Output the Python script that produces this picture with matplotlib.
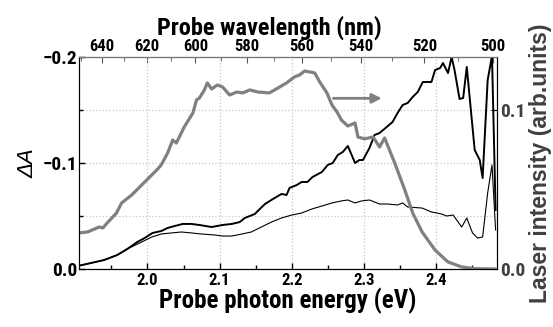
import numpy as np
import matplotlib.pyplot as plt
from matplotlib.ticker import MultipleLocator, FixedLocator

plt.rcParams['font.family'] = ['Roboto Condensed', 'Liberation Sans', 'DejaVu Sans']
plt.rcParams['axes.unicode_minus'] = True

# --- data ---
# laser intensity (right axis)
laser_e = [1.904, 1.917, 1.933, 1.938, 1.944, 1.957, 1.964, 1.978, 1.992, 1.999,
           2.013, 2.019, 2.028, 2.035, 2.040, 2.051, 2.063, 2.068, 2.072, 2.079,
           2.083, 2.089, 2.097, 2.104, 2.114, 2.124, 2.132, 2.142, 2.153, 2.169,
           2.181, 2.193, 2.204, 2.211, 2.218, 2.232, 2.239, 2.249, 2.256, 2.263,
           2.269, 2.278, 2.288, 2.292, 2.301, 2.313, 2.322, 2.329, 2.343, 2.357,
           2.368, 2.381, 2.399, 2.417, 2.436, 2.454, 2.482]
laser_i = [0.0226, 0.0233, 0.0264, 0.0258, 0.0289, 0.0352, 0.0415, 0.0465, 0.0528, 0.0560,
           0.0623, 0.0654, 0.0730, 0.0811, 0.0792, 0.0893, 0.0981, 0.1063, 0.1075, 0.1126,
           0.1170, 0.1132, 0.1157, 0.1145, 0.1094, 0.1113, 0.1107, 0.1126, 0.1113, 0.1107,
           0.1138, 0.1170, 0.1208, 0.1220, 0.1245, 0.1233, 0.1176, 0.1107, 0.1031, 0.0987,
           0.0937, 0.0899, 0.0918, 0.0830, 0.0818, 0.0830, 0.0767, 0.0824, 0.0667, 0.0497,
           0.0352, 0.0233, 0.0119, 0.0044, 0.0013, 0.0002, 0.0]

# -dA, thick curve
thick_e = [1.903, 1.922, 1.940, 1.958, 1.972, 1.986, 1.996, 2.007, 2.019, 2.028,
           2.038, 2.049, 2.061, 2.072, 2.089, 2.104, 2.117, 2.128, 2.135, 2.149,
           2.153, 2.163, 2.174, 2.186, 2.193, 2.197, 2.207, 2.214, 2.222, 2.229,
           2.242, 2.250, 2.257, 2.264, 2.271, 2.278, 2.288, 2.294, 2.299, 2.308,
           2.315, 2.322, 2.332, 2.340, 2.347, 2.354, 2.361, 2.368, 2.375, 2.382,
           2.394, 2.399, 2.406, 2.410, 2.417, 2.422, 2.426, 2.433, 2.438, 2.443,
           2.450, 2.454, 2.461, 2.465, 2.472, 2.478, 2.483]
thick_a = [0.0028, 0.0057, 0.0085, 0.0132, 0.0189, 0.0255, 0.0292, 0.0340, 0.0358, 0.0387,
           0.0406, 0.0425, 0.0425, 0.0415, 0.0396, 0.0415, 0.0425, 0.0443, 0.0481, 0.0519,
           0.0547, 0.0613, 0.0660, 0.0708, 0.0698, 0.0764, 0.0792, 0.0821, 0.0821, 0.0868,
           0.0915, 0.0981, 0.1000, 0.1075, 0.1104, 0.1160, 0.1000, 0.1028, 0.1028, 0.1142,
           0.1264, 0.1283, 0.1340, 0.1387, 0.1472, 0.1547, 0.1566, 0.1623, 0.1670, 0.1764,
           0.1764, 0.1877, 0.1896, 0.1943, 0.1849, 0.2000, 0.1877, 0.1604, 0.1613, 0.1906,
           0.1406, 0.1123, 0.1028, 0.0858, 0.1783, 0.2010, 0.0557]

# -dA, thin curve
thin_e = [1.903, 1.922, 1.940, 1.958, 1.972, 1.992, 2.006, 2.019, 2.033, 2.047,
          2.061, 2.075, 2.093, 2.104, 2.117, 2.131, 2.144, 2.158, 2.172, 2.186,
          2.200, 2.214, 2.228, 2.242, 2.256, 2.269, 2.278, 2.288, 2.297, 2.308,
          2.322, 2.333, 2.347, 2.354, 2.361, 2.381, 2.394, 2.408, 2.415, 2.424,
          2.429, 2.436, 2.443, 2.451, 2.458, 2.465, 2.472, 2.478, 2.483]
thin_a = [0.0028, 0.0057, 0.0085, 0.0132, 0.0189, 0.0255, 0.0302, 0.0330, 0.0340, 0.0349,
          0.0340, 0.0330, 0.0321, 0.0311, 0.0311, 0.0330, 0.0349, 0.0396, 0.0443, 0.0481,
          0.0509, 0.0528, 0.0566, 0.0594, 0.0623, 0.0642, 0.0651, 0.0623, 0.0642, 0.0651,
          0.0613, 0.0613, 0.0604, 0.0623, 0.0585, 0.0575, 0.0538, 0.0519, 0.0500, 0.0509,
          0.0462, 0.0396, 0.0481, 0.0340, 0.0292, 0.0302, 0.0717, 0.0981, 0.0368]

wl_ticks = [640, 620, 600, 580, 560, 540, 520, 500]
wl_minor = list(range(500, 651, 10))

HC = 1239.84
grey = '#808080'

fig = plt.figure(figsize=(5.53, 3.27), dpi=100)
ax = fig.add_axes([0.1429, 0.1774, 0.7559, 0.6483])

ax.plot(thin_e, -np.array(thin_a), color='black', lw=0.8, zorder=3)
ax.plot(thick_e, -np.array(thick_a), color='black', lw=1.4, zorder=3)

ax.set_xlim(1.905, 2.485)
ax.set_ylim(0, -0.2)
ax.xaxis.set_major_locator(MultipleLocator(0.1))
ax.xaxis.set_minor_locator(MultipleLocator(0.05))
ax.yaxis.set_major_locator(FixedLocator([0.0, -0.1, -0.2]))
ax.yaxis.set_minor_locator(FixedLocator([-0.05, -0.15]))
ax.set_yticklabels(['0.0', '\u22120.1', '\u22120.2'])
ax.set_xticklabels(['%.1f' % v for v in ax.get_xticks()])

ax.grid(True, which='major', axis='x', color='#c8c8c8', ls=':', lw=0.9)
ax.grid(True, which='both', axis='y', color='#c8c8c8', ls=':', lw=0.9)
ax.set_axisbelow(True)

ax.tick_params(axis='both', which='both', direction='in')
ax.tick_params(axis='x', labelsize=12, pad=3)
ax.tick_params(axis='y', labelsize=14, pad=1)
ax.tick_params(axis='both', which='major', length=4, width=1)
ax.tick_params(axis='both', which='minor', length=3, width=1)
for lab in ax.get_xticklabels() + ax.get_yticklabels():
    lab.set_fontweight('bold')

ax.set_xlabel('Probe photon energy (eV)', fontsize=18, fontweight='bold', labelpad=0)
ax.set_ylabel('\u0394A', fontsize=16, fontstyle='italic', labelpad=3,
              family=['Liberation Sans'])
ax.spines['top'].set_color('#777777')

# right axis for the laser spectrum
ax2 = ax.twinx()
ax2.plot(laser_e, laser_i, color=grey, lw=2.3, zorder=2)
ax2.set_ylim(0, 0.1333)
ax2.yaxis.set_major_locator(FixedLocator([0.0, 0.1]))
ax2.set_yticklabels(['0.0', '0.1'])
ax2.tick_params(axis='y', direction='in', length=4, labelsize=14,
                labelcolor='#404040', pad=2)
for lab in ax2.get_yticklabels():
    lab.set_fontweight('bold')
ax2.set_ylabel('Laser intensity (arb.units)', fontsize=16.5, fontweight='bold',
               color='#404040', labelpad=3, family=['Liberation Sans'])
ax2.spines['top'].set_color('#777777')

ax.annotate('', xy=(2.325, -0.161), xytext=(2.258, -0.161), xycoords='data',
            textcoords='data',
            arrowprops=dict(arrowstyle='-|>', color=grey, lw=2, mutation_scale=14,
                            shrinkA=0, shrinkB=0))

# top wavelength axis
top = ax.secondary_xaxis('top', functions=(lambda e: HC / e, lambda w: HC / w))
top.xaxis.set_major_locator(FixedLocator(wl_ticks))
top.xaxis.set_minor_locator(FixedLocator(wl_minor))
top.tick_params(which='both', direction='in', labelsize=12, pad=2, color='#555555')
top.tick_params(which='major', length=4)
top.tick_params(which='minor', length=3)
for lab in top.get_xticklabels():
    lab.set_fontweight('bold')
top.set_xlabel('Probe wavelength (nm)', fontsize=17.5, fontweight='bold', labelpad=3,
               x=0.455)
top.spines['top'].set_color('#777777')

fig.savefig('out.png', dpi=100)
